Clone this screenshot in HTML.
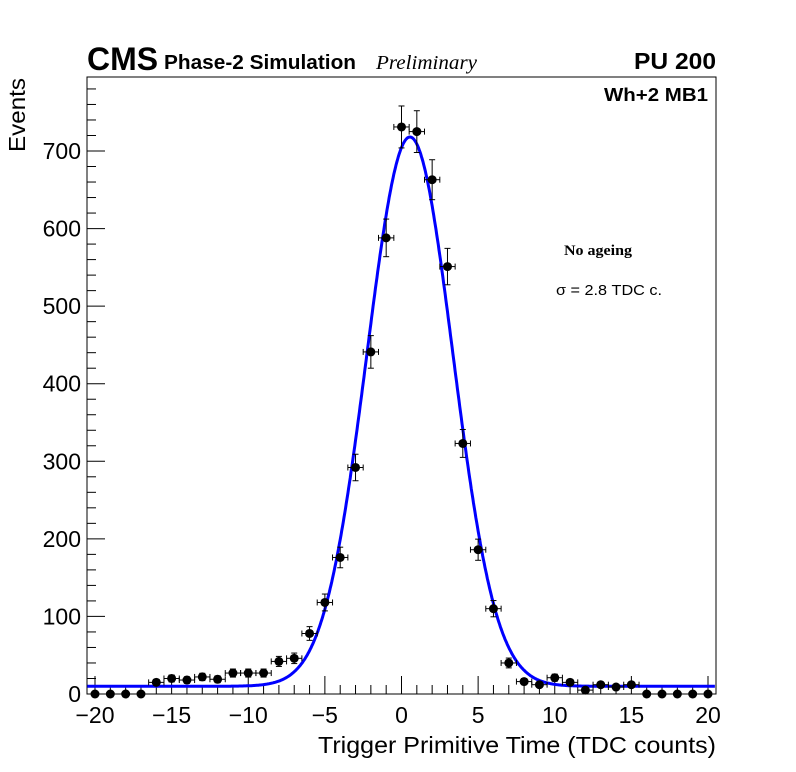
<!DOCTYPE html>
<html><head><meta charset="utf-8"><style>
body{margin:0;background:#fff}
svg{display:block;font-family:"Liberation Sans",sans-serif}
</style></head><body>
<svg id="chart" width="796" height="772" viewBox="0 0 796 772">
<rect x="0" y="0" width="796" height="772" fill="#fff"/>
<g id="axes"></g>
<g id="marks"></g>
<text x="87" y="70" font-size="32" font-weight="bold" textLength="71" lengthAdjust="spacingAndGlyphs">CMS</text>
<text x="164" y="69" font-size="20" font-weight="bold" textLength="192" lengthAdjust="spacingAndGlyphs">Phase-2 Simulation</text>
<text x="376" y="69" font-size="20" font-style="italic" font-family="Liberation Serif,serif" textLength="101" lengthAdjust="spacingAndGlyphs">Preliminary</text>
<text x="634" y="69" font-size="23" font-weight="bold" textLength="82" lengthAdjust="spacingAndGlyphs">PU 200</text>
<text x="604" y="101" font-size="18" font-weight="bold" textLength="104" lengthAdjust="spacingAndGlyphs">Wh+2 MB1</text>
<text x="564" y="255" font-size="15" font-weight="bold" font-family="Liberation Serif,serif" textLength="68" lengthAdjust="spacingAndGlyphs">No ageing</text>
<text x="556" y="295" font-size="15" textLength="106" lengthAdjust="spacingAndGlyphs">σ = 2.8 TDC c.</text>
<text x="318" y="753" font-size="23" textLength="398" lengthAdjust="spacingAndGlyphs">Trigger Primitive Time (TDC counts)</text>
<text transform="translate(25,152) rotate(-90)" font-size="23" textLength="74" lengthAdjust="spacingAndGlyphs">Events</text>
</svg>
<script>
const xCats=[-20,-19,-18,-17,-16,-15,-14,-13,-12,-11,-10,-9,-8,-7,-6,-5,-4,-3,-2,-1,0,1,2,3,4,5,6,7,8,9,10,11,12,13,14,15,16,17,18,19,20];
const counts=[0,0,0,0,15,20,18,22,19,27,27,27,42,46,78,118,176,292,441,588,731,725,663,551,323,186,110,40,16,12,21,15,5,12,9,12,0,0,0,0,0];
const xTicks=[-20,-15,-10,-5,0,5,10,15,20];
const yTicks=[0,100,200,300,400,500,600,700];
const fitParams=[708,0.55,2.8,10]; // amplitude, mean, sigma, constant

const X0=87,X1=716,Y0=694,Y1=77;
const sx=v=>95+(v+20)*(708-95)/40;
const sy=v=>694-v*(694-151)/700;
const NS='http://www.w3.org/2000/svg';
function mk(tag,attrs,parent){const e=document.createElementNS(NS,tag);for(const k in attrs)e.setAttribute(k,attrs[k]);parent.appendChild(e);return e;}
const axes=document.getElementById('axes'),marks=document.getElementById('marks');
const frame=mk('rect',{x:X0,y:Y1,width:X1-X0,height:Y0-Y1,fill:'none',stroke:'#000','stroke-width':1},axes);


for(let v=-20;v<=20;v++){
  const major=xTicks.includes(v);
  const t=mk('line',{x1:sx(v),x2:sx(v),y1:Y0,y2:Y0-(major?18:9),stroke:'#000'},axes);
  
  
}
xTicks.forEach(v=>{
  const t=mk('text',{x:sx(v),y:723,'font-size':23,'text-anchor':'middle'},axes);
  t.textContent=(v<0?'\u2212'+(-v):String(v));
  
  
});
for(let v=0;v<=780;v+=20){
  if(sy(v)<Y1)break;
  const major=v%100===0;
  const t=mk('line',{x1:X0,x2:X0+(major?18:9),y1:sy(v),y2:sy(v),stroke:'#000'},axes);
  
  
}
yTicks.forEach(v=>{
  const t=mk('text',{x:81,y:sy(v)+8,'font-size':23,'text-anchor':'end'},axes);
  t.textContent=String(v);
  
  
});
const [A,mu,sg,c]=fitParams;
let d='';
for(let x=-20.5;x<=20.5;x+=0.05){
  const y=A*Math.exp(-((x-mu)**2)/(2*sg*sg))+c;
  d+=(d?'L':'M')+Math.max(X0,Math.min(X1,sx(x))).toFixed(1)+','+sy(y).toFixed(1);
}
const fit=mk('path',{d:d,fill:'none',stroke:'#0000ff','stroke-width':3},marks);


xCats.forEach((x,i)=>{
  const v=counts[i],e=Math.sqrt(v);
  const g=mk('g',{},marks);
  
  
  const cx=sx(x),cy=sy(v);
  const hw=(sx(1)-sx(0))/2;
  if(v>0){
    mk('line',{x1:cx-hw,x2:cx+hw,y1:cy,y2:cy,stroke:'#000'},g);
    mk('line',{x1:cx-hw,x2:cx-hw,y1:cy-3,y2:cy+3,stroke:'#000'},g);
    mk('line',{x1:cx+hw,x2:cx+hw,y1:cy-3,y2:cy+3,stroke:'#000'},g);
    mk('line',{x1:cx,x2:cx,y1:sy(v+e),y2:sy(v-e),stroke:'#000'},g);
    mk('line',{x1:cx-3,x2:cx+3,y1:sy(v+e),y2:sy(v+e),stroke:'#000'},g);
    mk('line',{x1:cx-3,x2:cx+3,y1:sy(v-e),y2:sy(v-e),stroke:'#000'},g);
  }
  mk('circle',{cx:cx,cy:cy,r:4.5,fill:'#000'},g);
});
</script>
</body></html>
